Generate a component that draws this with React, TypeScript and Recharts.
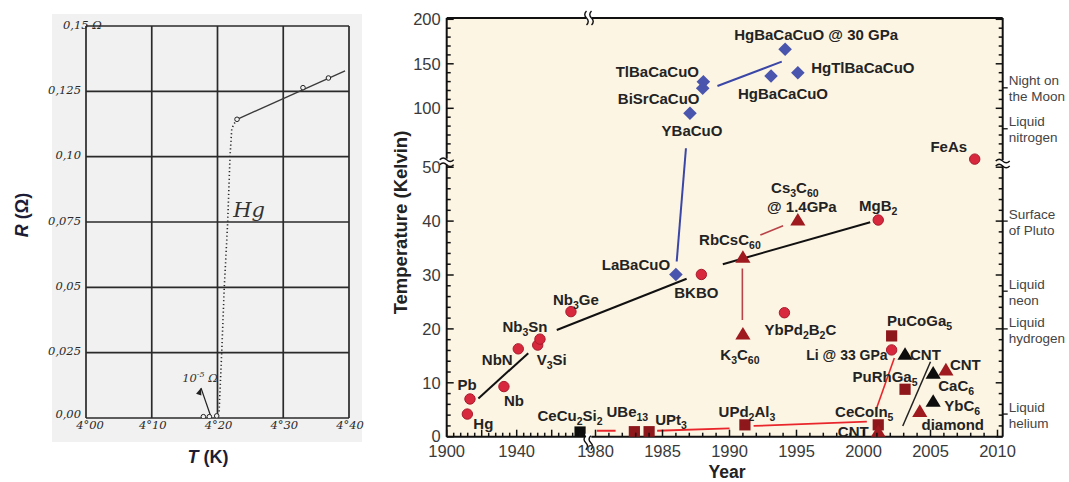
import React from "react";
import {
  ComposedChart,
  Line,
  Scatter,
  XAxis,
  YAxis,
  CartesianGrid,
  ReferenceArea,
  ReferenceDot,
} from "recharts";

const sans = "'Liberation Sans', Arial, Helvetica, sans-serif";
const hand = "'DejaVu Serif', 'Liberation Serif', serif";

// ---------- Onnes 1911: resistance of mercury ----------
const hgTempTicks = [4.0, 4.1, 4.2, 4.3, 4.4];
const hgTempLabels = ["4°00", "4°10", "4°20", "4°30", "4°40"];
const hgResTicks = [0, 0.025, 0.05, 0.075, 0.1, 0.125, 0.15];
const hgResLabels = ["0,00", "0,025", "0,05", "0,075", "0,10", "0,125", "0,15 Ω"];

const hgMeasured = [
  { t: 4.2297, r: 0.1143 },
  { t: 4.33, r: 0.1264 },
  { t: 4.3687, r: 0.1301 },
];
const hgNormalFit = [
  { t: 4.2297, r: 0.1143 },
  { t: 4.394, r: 0.1328 },
];
const hgTransition = [
  { t: 4.2297, r: 0.1143 },
  { t: 4.224, r: 0.1121 },
  { t: 4.2216, r: 0.1102 },
  { t: 4.219, r: 0.1 },
  { t: 4.2155, r: 0.075 },
  { t: 4.2103, r: 0.05 },
  { t: 4.2064, r: 0.025 },
  { t: 4.2023, r: 0.0018 },
];
const hgSuperconducting = [
  { t: 4.1785, r: 0.0005 },
  { t: 4.1876, r: 0.0005 },
  { t: 4.1988, r: 0.0008 },
];
const hgArrow = [
  { t: 4.1901, r: 0.0004 },
  { t: 4.1749, r: 0.0115 },
];

// ---------- Tc timeline ----------
// both axes are broken: one display unit is one pixel of the plot
const xLow = (yr: number) => (yr - 1900) * 1.75;
const xHigh = (yr: number) => 215.8 + (yr - 1985) * 13.4;
const xd = (yr: number) => (yr < 1979.25 ? xLow(yr) : xHigh(yr));
const yLow = (t: number) => t * 5.39;
const yHigh = (t: number) => 328.4 + (t - 100) * 0.89;
const yd = (t: number) => (t <= 53 ? yLow(t) : yHigh(t));
const X_MAX = 556;
const Y_MAX = 418.7;

const conventional = [
  { id: "Hg", year: 1911.8, tc: 4.2 },
  { id: "Pb", year: 1913.3, tc: 7.0 },
  { id: "Nb", year: 1932.7, tc: 9.3 },
  { id: "NbN", year: 1940.9, tc: 16.3 },
  { id: "V3Si", year: 1952.0, tc: 17.0 },
  { id: "Nb3Sn", year: 1953.3, tc: 18.1 },
  { id: "Nb3Ge", year: 1971.0, tc: 23.2 },
  { id: "BKBO", year: 1987.9, tc: 30.1 },
  { id: "YbPd2B2C", year: 1994.1, tc: 23.0 },
  { id: "MgB2", year: 2001.1, tc: 40.2 },
  { id: "Li", year: 2002.1, tc: 16.1 },
  { id: "FeAs", year: 2008.3, tc: 51.5 },
];
const cuprates = [
  { id: "LaBaCuO", year: 1986.0, tc: 30.1 },
  { id: "YBaCuO", year: 1987.05, tc: 94.4 },
  { id: "BiSrCaCuO", year: 1988.0, tc: 122.5 },
  { id: "TlBaCaCuO", year: 1988.05, tc: 129.9 },
  { id: "HgBaCaCuO", year: 1993.1, tc: 136.3 },
  { id: "HgBaCaCuO30", year: 1994.15, tc: 166.3 },
  { id: "HgTlBaCaCuO", year: 1995.1, tc: 140.0 },
];
const carbonRed = [
  { id: "RbCsC60", year: 1991.0, tc: 33.3 },
  { id: "Cs3C60", year: 1995.1, tc: 40.2 },
  { id: "K3C60", year: 1991.0, tc: 19.05 },
  { id: "CNT01", year: 2001.1, tc: 0.93 },
  { id: "diamond", year: 2004.2, tc: 4.7 },
  { id: "CNT06", year: 2006.15, tc: 12.4 },
];
const carbonBlack = [
  { id: "CNT03", year: 2003.1, tc: 15.3 },
  { id: "CaC6", year: 2005.2, tc: 11.8 },
  { id: "YbC6", year: 2005.2, tc: 6.6 },
];
const heavyFermion = [
  { id: "UBe13", year: 1982.9, tc: 0.93 },
  { id: "UPt3", year: 1984.0, tc: 0.93 },
  { id: "UPd2Al3", year: 1991.15, tc: 2.2 },
  { id: "CeCoIn5", year: 2001.1, tc: 2.2 },
  { id: "PuCoGa5", year: 2002.1, tc: 18.7 },
  { id: "PuRhGa5", year: 2003.1, tc: 8.8 },
];
const heavyFermionFirst = [{ id: "CeCu2Si2", year: 1976.2, tc: 0.87 }];

// trend lines, each [start, end] as (year, Tc)
const bcsTrend = [
  [{ year: 1918.1, tc: 7.1 }, { year: 1946.6, tc: 15.5 }],
  [{ year: 1962.9, tc: 19.8 }, { year: 1986.8, tc: 29.3 }],
  [{ year: 1989.5, tc: 32.0 }, { year: 2000.5, tc: 39.8 }],
];
const cuprateTrend = [
  [{ year: 1986.06, tc: 32.5 }, { year: 1986.75, tc: 55.1 }],
  [{ year: 1989.1, tc: 125.1 }, { year: 1993.9, tc: 152.4 }],
];
const heavyFermionTrend = [
  [{ year: 1980.1, tc: 1.1 }, { year: 1981.5, tc: 1.1 }],
  [{ year: 1984.6, tc: 1.1 }, { year: 1990.0, tc: 1.56 }],
  [{ year: 1991.8, tc: 1.99 }, { year: 2000.25, tc: 2.8 }],
];
const fullereneTrend = [
  [{ year: 1990.96, tc: 31.2 }, { year: 1990.96, tc: 21.65 }],
  [{ year: 1992.3, tc: 37.4 }, { year: 1994.0, tc: 39.15 }],
];
const lithiumTrend = [{ year: 2000.93, tc: 4.95 }, { year: 2002.3, tc: 14.6 }];
const nanotubeTrend = [{ year: 2002.93, tc: 1.99 }, { year: 2005.0, tc: 13.9 }];

const yearLabels = [1900, 1940, 1980, 1985, 1990, 1995, 2000, 2005, 2010];
const tempLabels = [0, 10, 20, 30, 40, 50, 100, 150, 200];

const environments = [
  { lines: ["Night on", "the Moon"], tc: 123 },
  { lines: ["Liquid", "nitrogen"], tc: 77 },
  { lines: ["Surface", "of Pluto"], tc: 40 },
  { lines: ["Liquid", "neon"], tc: 27 },
  { lines: ["Liquid", "hydrogen"], tc: 20 },
  { lines: ["Liquid", "helium"], tc: 4.2 },
];

// label text and its offset (px) from the marker centre
const labelPlacement = [
  { id: "Hg", text: "Hg", dx: 16, dy: 10 },
  { id: "Pb", text: "Pb", dx: -3, dy: -14 },
  { id: "Nb", text: "Nb", dx: 10, dy: 14 },
  { id: "NbN", text: "NbN", dx: -21, dy: 11 },
  { id: "V3Si", text: "V_3Si", dx: 14, dy: 15 },
  { id: "Nb3Sn", text: "Nb_3Sn", dx: -15, dy: -12 },
  { id: "Nb3Ge", text: "Nb_3Ge", dx: 5, dy: -12 },
  { id: "BKBO", text: "BKBO", dx: -5, dy: 19 },
  { id: "YbPd2B2C", text: "YbPd_2B_2C", dx: 16, dy: 17 },
  { id: "MgB2", text: "MgB_2", dx: 0, dy: -14 },
  { id: "Li", text: "Li @ 33 GPa", dx: -4, dy: 5, anchor: "end", size: 14 },
  { id: "FeAs", text: "FeAs", dx: -26, dy: -12 },
  { id: "LaBaCuO", text: "LaBaCuO", dx: -40, dy: -9 },
  { id: "YBaCuO", text: "YBaCuO", dx: 2, dy: 18 },
  { id: "BiSrCaCuO", text: "BiSrCaCuO", dx: -44, dy: 11 },
  { id: "TlBaCaCuO", text: "TlBaCaCuO", dx: -46, dy: -10 },
  { id: "HgBaCaCuO", text: "HgBaCaCuO", dx: 12, dy: 18 },
  { id: "HgBaCaCuO30", text: "HgBaCaCuO @ 30 GPa", dx: 31, dy: -14 },
  { id: "HgTlBaCaCuO", text: "HgTlBaCaCuO", dx: 65, dy: -5 },
  { id: "RbCsC60", text: "RbCsC_60", dx: -13, dy: -17 },
  { id: "Cs3C60", text: "Cs_3C_60", dx: -3, dy: -32 },
  { id: "Cs3C60", text: "@ 1.4GPa", dx: 4, dy: -13 },
  { id: "K3C60", text: "K_3C_60", dx: -3, dy: 21 },
  { id: "CNT01", text: "CNT", dx: -25, dy: 0 },
  { id: "diamond", text: "diamond", dx: 33, dy: 13.5 },
  { id: "CNT06", text: "CNT", dx: 4, dy: -5, anchor: "start" },
  { id: "CNT03", text: "CNT", dx: 5, dy: 1, anchor: "start" },
  { id: "CaC6", text: "CaC_6", dx: 23, dy: 13 },
  { id: "YbC6", text: "YbC_6", dx: 29, dy: 4.5 },
  { id: "UBe13", text: "UBe_13", dx: -7, dy: -20 },
  { id: "UPt3", text: "UPt_3", dx: 22, dy: -12 },
  { id: "UPd2Al3", text: "UPd_2Al_3", dx: 2, dy: -13 },
  { id: "CeCoIn5", text: "CeCoIn_5", dx: -14, dy: -13 },
  { id: "PuCoGa5", text: "PuCoGa_5", dx: 28, dy: -15 },
  { id: "PuRhGa5", text: "PuRhGa_5", dx: -20, dy: -12 },
  { id: "CeCu2Si2", text: "CeCu_2Si_2", dx: -10, dy: -16 },
];

const toPlot = (pts: any[]) => pts.map((p) => ({ ...p, x: xd(p.year), y: yd(p.tc) }));

const range = (a: number, b: number, step: number) => {
  const out: number[] = [];
  for (let v = a; v <= b + 1e-9; v += step) out.push(v);
  return out;
};

const yearTicks = [
  ...range(1900, 1976, 4).map((yr) => ({ pos: xLow(yr), major: yr % 20 === 0, yr })),
  ...range(1980, 2010, 1).map((yr) => ({ pos: xHigh(yr), major: yr % 5 === 0, yr })),
];
const tempTicks = [
  ...range(0, 50, 2).map((t) => ({ pos: yLow(t), major: t % 10 === 0, t })),
  ...range(50, 200, 10).map((t) => ({ pos: yHigh(t), major: t % 50 === 0 && t > 50, t: t === 50 ? -1 : t })),
];
const envTicks = environments.map((e) => ({ ...e, pos: yd(e.tc) }));
const rightTickPos = Array.from(
  new Set([...tempTicks.map((t) => t.pos), ...envTicks.map((e) => e.pos)].map((p) => Math.round(p * 100) / 100))
);

const near = (a: number, b: number) => Math.abs(a - b) < 0.02;

function RichLabel({ x, y, text, anchor = "middle", size = 15 }: any) {
  const parts = text.split(/_(\d+)/);
  const spans: any[] = [];
  let shifted = false;
  parts.forEach((s: string, i: number) => {
    if (!s) return;
    const sub = i % 2 === 1;
    let dy: number | undefined;
    if (sub && !shifted) {
      dy = 4;
      shifted = true;
    } else if (!sub && shifted) {
      dy = -4;
      shifted = false;
    }
    spans.push(
      <tspan key={i} dy={dy} fontSize={sub ? size * 0.7 : size}>
        {s}
      </tspan>
    );
  });
  return (
    <text x={x} y={y} textAnchor={anchor} fontFamily={sans} fontWeight="bold" fontSize={size} fill="#232323">
      {spans}
    </text>
  );
}

const markerStyle: any = {
  circle: { fill: "#d8283e", stroke: "#a81b2d" },
  diamond: { fill: "#4a56ad", stroke: "#3c4799" },
  triangleRed: { fill: "#9e1a1f", stroke: "#9e1a1f" },
  triangleBlack: { fill: "#0d0d0d", stroke: "#0d0d0d" },
  square: { fill: "#8e171c", stroke: "#8e171c" },
  squareBlack: { fill: "#0d0d0d", stroke: "#0d0d0d" },
};

function PointMark(props: any) {
  const { cx, cy, payload, kind } = props;
  const st = markerStyle[kind];
  let mark;
  if (kind === "circle") mark = <circle cx={cx} cy={cy} r={5.2} fill={st.fill} stroke={st.stroke} strokeWidth={1} />;
  else if (kind === "diamond")
    mark = <path d={`M${cx} ${cy - 6.8}L${cx + 6.8} ${cy}L${cx} ${cy + 6.8}L${cx - 6.8} ${cy}Z`} fill={st.fill} />;
  else if (kind.startsWith("triangle"))
    mark = <path d={`M${cx} ${cy - 7}L${cx + 7.6} ${cy + 5.6}L${cx - 7.6} ${cy + 5.6}Z`} fill={st.fill} />;
  else mark = <rect x={cx - 5.6} y={cy - 5.6} width={11.2} height={11.2} fill={st.fill} />;
  const labels = labelPlacement.filter((l) => l.id === payload.id);
  return (
    <g>
      {mark}
      {labels.map((l, i) => (
        <RichLabel key={i} x={cx + l.dx} y={cy + l.dy + 5} text={l.text} anchor={l.anchor} size={l.size} />
      ))}
    </g>
  );
}

function BottomYearTick({ x, y, payload }: any) {
  const t = yearTicks.find((k) => near(k.pos, payload.value));
  if (!t) return <g />;
  return (
    <g>
      <line x1={x} x2={x} y1={y} y2={y - (t.major ? 7 : 4)} stroke="#111" strokeWidth={1.5} />
      {yearLabels.includes(t.yr) && (
        <text x={x} y={y + 20} textAnchor="middle" fontFamily={sans} fontSize={16.5} fill="#3a3a3a">
          {t.yr}
        </text>
      )}
    </g>
  );
}

function TopYearTick({ x, y, payload }: any) {
  const t = yearTicks.find((k) => near(k.pos, payload.value));
  if (!t) return <g />;
  return <line x1={x} x2={x} y1={y} y2={y + (t.major ? 7 : 4)} stroke="#111" strokeWidth={1.5} />;
}

function LeftTempTick({ x, y, payload }: any) {
  const t = tempTicks.find((k) => near(k.pos, payload.value));
  if (!t) return <g />;
  return (
    <g>
      <line x1={x} x2={x + (t.major ? 7 : 4)} y1={y} y2={y} stroke="#111" strokeWidth={1.5} />
      {tempLabels.includes(t.t) && (
        <text x={x - 6} y={y + (t.t === 0 ? 5 : 6)} textAnchor="end" fontFamily={sans} fontSize={16.5} fill="#3a3a3a">
          {t.t}
        </text>
      )}
    </g>
  );
}

function RightTempTick({ x, y, payload }: any) {
  const t = tempTicks.find((k) => near(k.pos, payload.value));
  const env = envTicks.find((e) => near(e.pos, payload.value));
  return (
    <g>
      {t && <line x1={x} x2={x - (t.major ? 7 : 4)} y1={y} y2={y} stroke="#111" strokeWidth={1.5} />}
      {env && (
        <g>
          <line x1={x} x2={x + 5} y1={y} y2={y} stroke="#111" strokeWidth={1.3} />
          <text x={x + 6} y={y - 2.4} fontFamily={sans} fontSize={13.5} fill="#444">
            {env.lines[0]}
          </text>
          <text x={x + 6} y={y + 13.6} fontFamily={sans} fontSize={13.5} fill="#444">
            {env.lines[1]}
          </text>
        </g>
      )}
    </g>
  );
}

// squiggle drawn over the axis line where the scale jumps
function BreakMark({ cx, cy, dir }: any) {
  if (dir === "v") {
    return (
      <g fill="none" stroke="#111" strokeWidth={1.4}>
        <rect x={cx - 3} y={cy - 3} width={6} height={6} fill="#fff" stroke="none" />
        <path d={`M${cx - 7} ${cy - 2}q3.5 -3.5 7 0t7 0`} />
        <path d={`M${cx - 7} ${cy + 3}q3.5 -3.5 7 0t7 0`} />
      </g>
    );
  }
  const down = dir === "down" ? 1 : 0;
  return (
    <g fill="none" stroke="#111" strokeWidth={1.4}>
      <rect x={cx - 3} y={cy - 3} width={6} height={6} fill="#fff" stroke="none" />
      <path d={`M${cx - 2.5} ${cy - 7 + down * 6}q-3.5 3.5 0 7t0 7`} />
      <path d={`M${cx + 2.5} ${cy - 7 + down * 6}q-3.5 3.5 0 7t0 7`} />
    </g>
  );
}

function HgTempTick({ x, y, payload }: any) {
  const i = hgTempTicks.findIndex((v) => Math.abs(v - payload.value) < 1e-6);
  return (
    <text x={x + (i === 0 ? 4 : 1)} y={y + 11} textAnchor="middle" fontFamily={hand} fontStyle="italic" fontSize={11.5} fill="#2a2a2a">
      {hgTempLabels[i]}
    </text>
  );
}

function HgResTick({ x, y, payload }: any) {
  const i = hgResTicks.findIndex((v) => Math.abs(v - payload.value) < 1e-6);
  const top = i === hgResTicks.length - 1;
  return (
    <text
      x={top ? x - 23 : x - 5}
      y={y + (i === 0 ? 0 : 2.5)}
      textAnchor={top ? "start" : "end"}
      fontFamily={hand}
      fontStyle="italic"
      fontSize={11.5}
      fill="#2a2a2a"
    >
      {hgResLabels[i]}
    </text>
  );
}

function OpenCircle({ cx, cy }: any) {
  return <circle cx={cx} cy={cy} r={2.3} fill="#f1f1f1" stroke="#222" strokeWidth={1} />;
}

function ArrowHead(props: any) {
  const { cx, cy, index } = props;
  if (index !== 1) return <g key={`a${index}`} />;
  const ang = Math.atan2(29, -10);
  const ux = Math.cos(ang);
  const uy = Math.sin(ang);
  const bx = cx + ux * 7;
  const by = cy + uy * 7;
  return (
    <path
      key="ah"
      d={`M${cx} ${cy}L${bx - uy * 2.8} ${by + ux * 2.8}L${bx + uy * 2.8} ${by - ux * 2.8}Z`}
      fill="#222"
    />
  );
}

function OnnesChart() {
  return (
    <ComposedChart width={372} height={482} margin={{ top: 26, right: 23, bottom: 34, left: 46 }}>
      <CartesianGrid stroke="#2a2a2a" strokeWidth={1.7} />
      <XAxis
        type="number"
        dataKey="t"
        domain={[4.0, 4.4]}
        ticks={hgTempTicks}
        interval={0}
        height={30}
        axisLine={false}
        tickLine={false}
        tickSize={0}
        tickMargin={0}
        tick={HgTempTick}
        allowDataOverflow
        label={() => (
          <text x={208} y={463} textAnchor="middle" fontFamily={sans} fontWeight="bold" fontSize={18} fill="#1c1c36">
            <tspan fontStyle="italic">T</tspan> (K)
          </text>
        )}
      />
      <YAxis
        type="number"
        dataKey="r"
        domain={[0, 0.15]}
        ticks={hgResTicks}
        interval={0}
        width={40}
        axisLine={false}
        tickLine={false}
        tickSize={0}
        tickMargin={0}
        tick={HgResTick}
        allowDataOverflow
        label={() => (
          <text
            x={22}
            y={215}
            transform="rotate(-90 22 215)"
            textAnchor="middle"
            dominantBaseline="central"
            fontFamily={sans}
            fontWeight="bold"
            fontSize={18}
            fill="#1c1c36"
          >
            <tspan fontStyle="italic">R</tspan> (Ω)
          </text>
        )}
      />
      <Line data={hgNormalFit} dataKey="r" stroke="#3a3a3a" strokeWidth={1.3} dot={false} isAnimationActive={false} />
      <Line
        data={hgTransition}
        dataKey="r"
        stroke="#2a2a2a"
        strokeWidth={1.6}
        strokeDasharray="1.2 2.6"
        dot={false}
        isAnimationActive={false}
      />
      <Line data={hgArrow} dataKey="r" stroke="#222" strokeWidth={1.2} dot={ArrowHead} isAnimationActive={false} />
      <Scatter data={hgMeasured} shape={OpenCircle} isAnimationActive={false} />
      <Scatter data={hgSuperconducting} shape={OpenCircle} isAnimationActive={false} />
      <ReferenceDot
        x={4.248}
        y={0.0796}
        r={0}
        shape={(p: any) => (
          <text x={p.cx} y={p.cy + 7} textAnchor="middle" fontFamily={hand} fontStyle="italic" fontSize={21} fill="#333">
            Hg
          </text>
        )}
      />
      <ReferenceDot
        x={4.1734}
        y={0.0153}
        r={0}
        shape={(p: any) => (
          <text x={p.cx} y={p.cy + 4} textAnchor="middle" fontFamily={hand} fontStyle="italic" fontSize={11.5} fill="#333">
            10<tspan dy={-5} fontSize={8}>-5</tspan>
            <tspan dy={5}> Ω</tspan>
          </text>
        )}
      />
    </ComposedChart>
  );
}

const seg = (pts: any[]) => pts.map((p) => ({ x: xd(p.year), y: yd(p.tc) }));

function TimelineChart() {
  const lineSeries: { pts: any[]; color: string; width: number }[] = [
    ...bcsTrend.map((s) => ({ pts: s, color: "#111", width: 2 })),
    ...cuprateTrend.map((s) => ({ pts: s, color: "#3b47a6", width: 2 })),
    ...heavyFermionTrend.map((s) => ({ pts: s, color: "#e8262b", width: 1.8 })),
    ...fullereneTrend.map((s) => ({ pts: s, color: "#b8444a", width: 1.6 })),
    { pts: lithiumTrend, color: "#e8262b", width: 1.6 },
    { pts: nanotubeTrend, color: "#222", width: 1.5 },
  ];
  return (
    <ComposedChart width={699} height={482} margin={{ top: 8, right: 6.3, bottom: 15.3, left: 26.7 }}>
      <XAxis
        xAxisId="b"
        type="number"
        dataKey="x"
        domain={[0, X_MAX]}
        ticks={yearTicks.map((t) => t.pos)}
        interval={0}
        height={30}
        tickSize={0}
        tickMargin={0}
        tickLine={false}
        axisLine={{ stroke: "#111", strokeWidth: 2 }}
        tick={BottomYearTick}
        allowDataOverflow
        label={() => (
          <text x={357} y={478} textAnchor="middle" fontFamily={sans} fontWeight="bold" fontSize={17.5} fill="#222">
            Year
          </text>
        )}
      />
      <XAxis
        xAxisId="t"
        orientation="top"
        type="number"
        domain={[0, X_MAX]}
        ticks={yearTicks.map((t) => t.pos)}
        interval={0}
        height={10}
        tickSize={0}
        tickMargin={0}
        tickLine={false}
        axisLine={{ stroke: "#111", strokeWidth: 2 }}
        tick={TopYearTick}
        allowDataOverflow
      />
      <YAxis
        yAxisId="l"
        type="number"
        dataKey="y"
        domain={[0, Y_MAX]}
        ticks={tempTicks.map((t) => t.pos)}
        interval={0}
        width={50}
        tickSize={0}
        tickMargin={0}
        tickLine={false}
        axisLine={{ stroke: "#111", strokeWidth: 2 }}
        tick={LeftTempTick}
        allowDataOverflow
        label={() => (
          <text
            x={30}
            y={222.5}
            transform="rotate(-90 30 222.5)"
            textAnchor="middle"
            dominantBaseline="central"
            fontFamily={sans}
            fontWeight="bold"
            fontSize={18.5}
            fill="#222"
          >
            Temperature (Kelvin)
          </text>
        )}
      />
      <YAxis
        yAxisId="r"
        orientation="right"
        type="number"
        domain={[0, Y_MAX]}
        ticks={rightTickPos}
        interval={0}
        width={60}
        tickSize={0}
        tickMargin={0}
        tickLine={false}
        axisLine={{ stroke: "#111", strokeWidth: 2 }}
        tick={RightTempTick}
        allowDataOverflow
      />
      <ReferenceArea
        xAxisId="b"
        yAxisId="l"
        x1={0}
        x2={X_MAX}
        y1={0}
        y2={Y_MAX}
        fill="#fdf5e3"
        fillOpacity={1}
        stroke="none"
      />
      {lineSeries.map((s, i) => (
        <Line
          key={i}
          xAxisId="b"
          yAxisId="l"
          data={seg(s.pts)}
          dataKey="y"
          stroke={s.color}
          strokeWidth={s.width}
          dot={false}
          isAnimationActive={false}
        />
      ))}
      <Scatter xAxisId="b" yAxisId="l" data={toPlot(heavyFermion)} shape={(p: any) => <PointMark {...p} kind="square" />} isAnimationActive={false} />
      <Scatter xAxisId="b" yAxisId="l" data={toPlot(heavyFermionFirst)} shape={(p: any) => <PointMark {...p} kind="squareBlack" />} isAnimationActive={false} />
      <Scatter xAxisId="b" yAxisId="l" data={toPlot(carbonRed)} shape={(p: any) => <PointMark {...p} kind="triangleRed" />} isAnimationActive={false} />
      <Scatter xAxisId="b" yAxisId="l" data={toPlot(carbonBlack)} shape={(p: any) => <PointMark {...p} kind="triangleBlack" />} isAnimationActive={false} />
      <Scatter xAxisId="b" yAxisId="l" data={toPlot(conventional)} shape={(p: any) => <PointMark {...p} kind="circle" />} isAnimationActive={false} />
      <Scatter xAxisId="b" yAxisId="l" data={toPlot(cuprates)} shape={(p: any) => <PointMark {...p} kind="diamond" />} isAnimationActive={false} />
      <ReferenceDot xAxisId="b" yAxisId="l" x={142.3} y={Y_MAX} r={0} ifOverflow="visible" shape={(p: any) => <BreakMark {...p} dir="h" />} />
      <ReferenceDot xAxisId="b" yAxisId="l" x={141.6} y={0} r={0} ifOverflow="visible" shape={(p: any) => <BreakMark {...p} dir="down" />} />
      <ReferenceDot xAxisId="b" yAxisId="l" x={0} y={275} r={0} ifOverflow="visible" shape={(p: any) => <BreakMark {...p} dir="v" />} />
      <ReferenceDot xAxisId="b" yAxisId="l" x={X_MAX} y={273.7} r={0} ifOverflow="visible" shape={(p: any) => <BreakMark {...p} dir="v" />} />
    </ComposedChart>
  );
}

export default function App() {
  return (
    <div style={{ position: "absolute", left: 0, top: 0, width: 1069, height: 482, background: "#fff", overflow: "hidden" }}>
      <div style={{ position: "absolute", left: 52, top: 14, width: 310, height: 428, background: "#f1f1f1" }} />
      <div style={{ position: "absolute", left: 0, top: 0 }}>
        <OnnesChart />
      </div>
      <div style={{ position: "absolute", left: 370, top: 0 }}>
        <TimelineChart />
      </div>
    </div>
  );
}
